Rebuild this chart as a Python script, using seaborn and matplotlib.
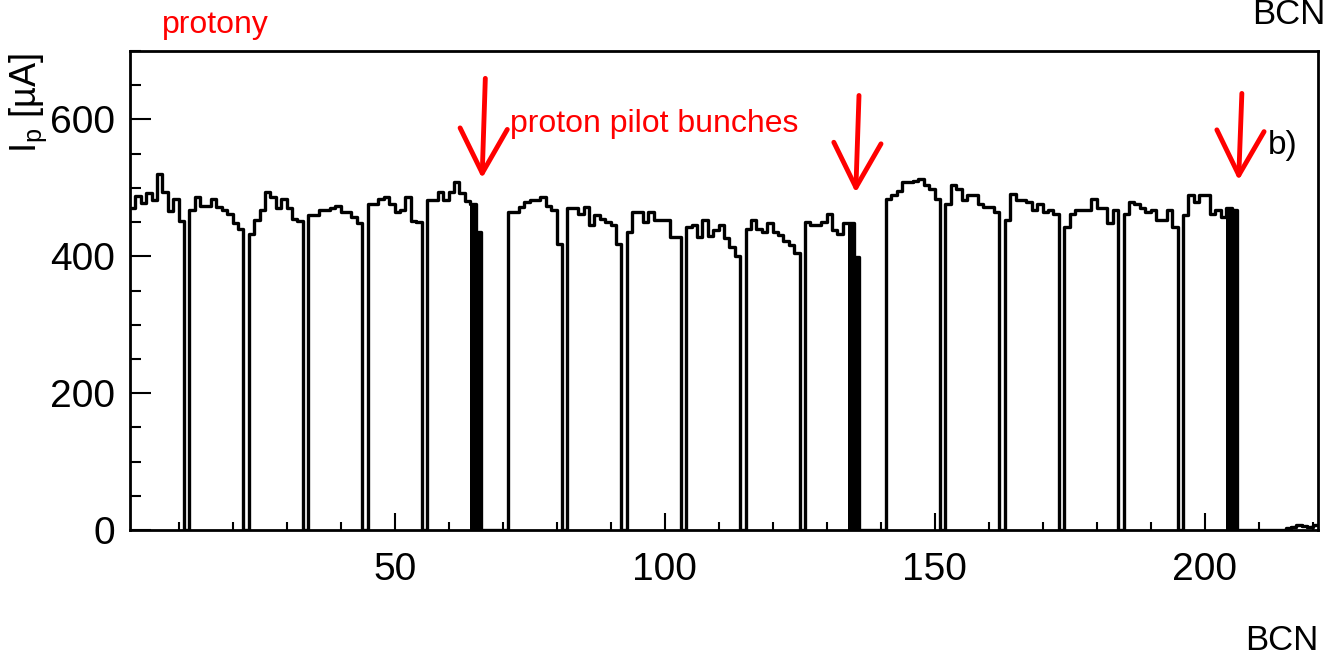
import numpy as np
import pandas as pd
import matplotlib
matplotlib.use("Agg")
import matplotlib.pyplot as plt
from matplotlib.ticker import MultipleLocator
import seaborn as sns

# ---------------- data ----------------
# proton bunch currents [uA] per bunch crossing number (BCN), trains of bunches
train_start = [1, 12, 23, 34, 45, 56, 71, 82, 93, 104, 115, 126, 141, 152, 163, 174, 185, 196]
t01 = [470, 488, 478, 492, 482, 520, 494, 466, 484, 452]
t02 = [467, 487, 474, 474, 484, 472, 467, 462, 448, 440]
t03 = [433, 453, 467, 494, 486, 470, 483, 470, 455, 452]
t04 = [460, 460, 467, 468, 470, 474, 465, 464, 458, 449]
t05 = [477, 477, 484, 487, 477, 464, 467, 487, 452, 450]
t06 = [482, 482, 494, 482, 494, 508, 492, 481]
t07 = [465, 465, 472, 480, 482, 482, 487, 474, 467, 418]
t08 = [470, 470, 462, 472, 445, 460, 455, 450, 445, 418]
t09 = [435, 465, 464, 450, 465, 453, 453, 453, 428, 428]
t10 = [443, 445, 428, 453, 430, 438, 445, 426, 414, 400]
t11 = [440, 453, 440, 435, 448, 435, 431, 423, 416, 405]
t12 = [450, 445, 445, 450, 462, 438, 433, 448]
t13 = [483, 490, 496, 508, 508, 510, 513, 504, 499, 484]
t14 = [477, 504, 499, 482, 489, 489, 477, 472, 472, 465]
t15 = [453, 491, 482, 482, 479, 467, 477, 465, 467, 462]
t16 = [443, 462, 467, 467, 467, 484, 470, 470, 448, 467]
t17 = [462, 479, 477, 470, 465, 468, 453, 453, 467, 443]
t18 = [460, 489, 479, 489, 489, 462, 468, 458]
trains = [t01, t02, t03, t04, t05, t06, t07, t08, t09, t10, t11, t12,
          t13, t14, t15, t16, t17, t18]

# proton pilot bunches (drawn filled)
pilot_start = [64, 134, 204]
pilot_1 = [477, 436]
pilot_2 = [448, 399]
pilot_3 = [470, 468]
pilots = [pilot_1, pilot_2, pilot_3]

# small tail at the end of the range
tail_start = 215
tail = [3, 5, 8, 6, 5, 8]

bcn_first, bcn_last = 1, 220
x_major = [50, 100, 150, 200]
y_major = [0, 200, 400, 600]

# arrows pointing at the pilot bunches (BCN, tip value, top value)
arrow_bcn = [66.2, 135.4, 206.3]
arrow_tip = [514, 493, 511]
arrow_top = [660, 635, 638]

# ---------------- build table ----------------
bcn = np.arange(bcn_first, bcn_last + 1)
current = np.zeros(len(bcn))
pilot_current = np.zeros(len(bcn))
for s, vals in zip(train_start, trains):
    current[s - bcn_first:s - bcn_first + len(vals)] = vals
for s, vals in zip(pilot_start, pilots):
    current[s - bcn_first:s - bcn_first + len(vals)] = vals
    pilot_current[s - bcn_first:s - bcn_first + len(vals)] = vals
current[tail_start - bcn_first:tail_start - bcn_first + len(tail)] = tail

df = pd.DataFrame({"bcn": bcn + 0.5, "current": current, "pilot": pilot_current})
brange = (bcn_first, bcn_last + 1)

# ---------------- plot ----------------
sns.set_theme(style="white")
plt.rcParams['font.family'] = ['Liberation Sans', 'DejaVu Sans']
plt.rcParams['mathtext.fontset'] = 'custom'
plt.rcParams['mathtext.rm'] = 'Liberation Sans'

W, H = 1328, 656
fig = plt.figure(figsize=(W / 100, H / 100), dpi=100)
ax = fig.add_axes([130 / W, 1 - 530 / H, (1318 - 130) / W, (530 - 51) / H])

sns.histplot(data=df, x="bcn", weights="pilot", binwidth=1, binrange=brange,
             element="bars", fill=True, color="black", alpha=1, linewidth=0, ax=ax)
sns.histplot(data=df, x="bcn", weights="current", binwidth=1, binrange=brange,
             element="step", fill=False, color="black", linewidth=2.4, ax=ax)

ax.set_xlim(bcn_first, bcn_last + 1)
ax.set_ylim(0, 700)
ax.set_xlabel("")
ax.set_ylabel("")
ax.set_xticks(x_major)
ax.set_xticklabels([str(v) for v in x_major])
ax.set_yticks(y_major)
ax.set_yticklabels([str(v) for v in y_major])
ax.xaxis.set_minor_locator(MultipleLocator(10))
ax.yaxis.set_minor_locator(MultipleLocator(50))
ax.tick_params(which="both", direction="in", bottom=True, left=True,
               top=False, right=False, colors="black", labelsize=28)
ax.tick_params(axis="x", which="major", length=12, width=1.5, pad=16)
ax.tick_params(axis="x", which="minor", length=6, width=1.5)
ax.tick_params(axis="y", which="major", length=15, width=1.5, pad=11)
ax.tick_params(axis="y", which="minor", length=8, width=1.5)
for sp in ax.spines.values():
    sp.set_visible(True)
    sp.set_color("black")
    sp.set_linewidth(2.0)

# arrows
for xb, yt, ytop in zip(arrow_bcn, arrow_tip, arrow_top):
    ax.annotate("", xy=(xb, yt), xytext=(xb + 0.6, ytop),
                arrowprops=dict(arrowstyle="->,head_length=1.6,head_width=0.85",
                                color="red", lw=3.5, mutation_scale=20,
                                shrinkA=0, shrinkB=0))

ax.text(0.9705, 0.803, "b)", transform=ax.transAxes, ha="center", va="center",
        fontsize=24, color="black")

# texts
fig.text(162 / W, 1 - 33 / H, "protony", color="red", fontsize=23,
         ha="left", va="baseline")
fig.text(510 / W, 1 - 132 / H, "proton pilot bunches", color="red", fontsize=23,
         ha="left", va="baseline")
fig.text(1245 / W, 1 - 650 / H, "BCN", color="black", fontsize=25,
         ha="left", va="baseline")
fig.text(1252 / W, 1 - 24 / H, "BCN", color="black", fontsize=25,
         ha="left", va="baseline")
fig.text(28 / W, 1 - 103 / H, r"I$_{\mathrm{p}}$ [µA]", color="black", fontsize=26,
         rotation=90, ha="center", va="center")

fig.savefig("out.png", dpi=100)
